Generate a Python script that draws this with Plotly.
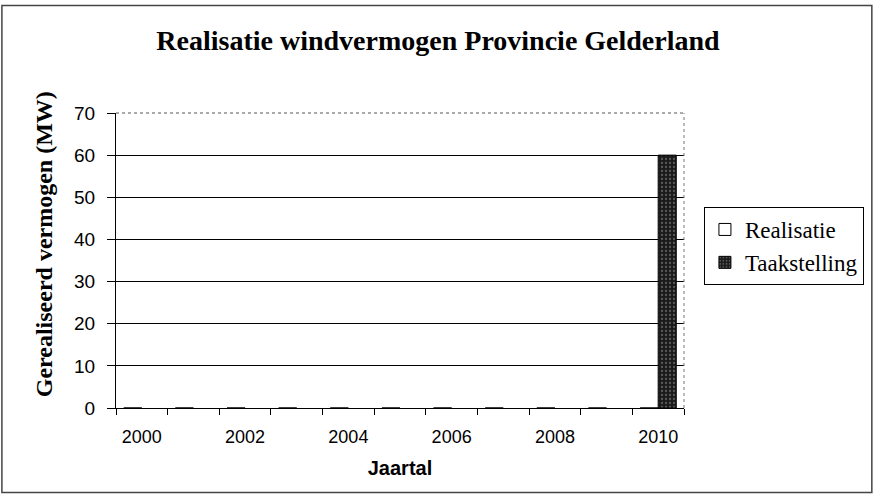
import plotly.graph_objects as go

years = [str(y) for y in range(2000, 2011)]
realisatie = [0, 0, 0, 0, 0, 0, 0, 0, 0, 0, 0]
taakstelling = [None, None, None, None, None, None, None, None, None, None, 60]
tick_text = ["2000", "", "2002", "", "2004", "", "2006", "", "2008", "", "2010"]

W, H = 876, 495
L, R, T, B = 116, 190, 113, 87
pw, ph = W - L - R, H - T - B

def px(x):
    return (x - L) / pw

def py(y):
    return (H - B - y) / ph

SERIF = "Liberation Serif, Times New Roman, serif"
SANS = "Liberation Sans, Arial, sans-serif"

fig = go.Figure()
fig.add_trace(go.Bar(
    x=years, y=realisatie, name="Realisatie",
    marker=dict(color="white", line=dict(color="black", width=1)),
))
fig.add_trace(go.Bar(
    x=years, y=taakstelling, name="Taakstelling",
    marker=dict(color="#1a1a1a", line=dict(color="black", width=1),
                pattern=dict(shape=".", fgcolor="#9a9a9a", bgcolor="#1a1a1a", size=4, solidity=0.25)),
))

fig.update_layout(
    width=W, height=H,
    margin=dict(l=L, r=R, t=T, b=B),
    paper_bgcolor="white", plot_bgcolor="white",
    barmode="group", bargap=0.3, bargroupgap=0,
    showlegend=True,
    title=dict(text="<b>Realisatie windvermogen Provincie Gelderland</b>",
               font=dict(family=SERIF, size=28, color="black"),
               x=0.5, xanchor="center", y=1 - 40 / H, yanchor="middle"),
    legend=dict(x=px(706), y=py(207), xanchor="left", yanchor="top",
                bordercolor="black", borderwidth=1, bgcolor="white",
                font=dict(family=SERIF, size=23, color="black"),
                tracegroupgap=2, itemwidth=30),
    xaxis=dict(
        type="category", tickmode="array", tickvals=years, ticktext=tick_text,
        tickson="boundaries", ticks="outside", ticklen=6, tickcolor="black",
        ticklabelstandoff=12,
        showline=True, linecolor="black", linewidth=1, showgrid=False,
        tickfont=dict(family=SANS, size=18, color="black"),
        title=dict(text="<b>Jaartal</b>", standoff=15,
                   font=dict(family=SANS, size=20, color="black")),
    ),
    yaxis=dict(
        range=[0, 70], dtick=10, ticks="outside", ticklen=8, tickcolor="black",
        ticklabelstandoff=8,
        showline=True, linecolor="black", linewidth=1,
        showgrid=True, gridcolor="black", gridwidth=1, zeroline=False,
        tickfont=dict(family=SANS, size=19, color="black"),
    ),
    annotations=[
        dict(text="<b>Gerealiseerd vermogen (MW)</b>", xref="paper", yref="paper",
             x=px(44), y=py(244), xanchor="center", yanchor="middle",
             textangle=-90, showarrow=False,
             font=dict(family=SERIF, size=24, color="black")),
    ],
    shapes=[
        dict(type="line", xref="paper", yref="paper", x0=1, x1=1, y0=0, y1=1,
             line=dict(color="#777777", width=1, dash="dot")),
        dict(type="line", xref="paper", yref="paper", x0=0, x1=1, y0=1, y1=1,
             line=dict(color="#555555", width=1, dash="dot")),
        dict(type="rect", xref="paper", yref="paper",
             x0=px(1.5), x1=px(874.5), y0=py(492.5), y1=py(5.5),
             line=dict(color="#444444", width=1.5), fillcolor="rgba(0,0,0,0)"),
    ],
)

fig.write_html("out.html", config={"displayModeBar": False},
               post_script="document.body.style.margin='0px';document.body.style.overflow='hidden';")
